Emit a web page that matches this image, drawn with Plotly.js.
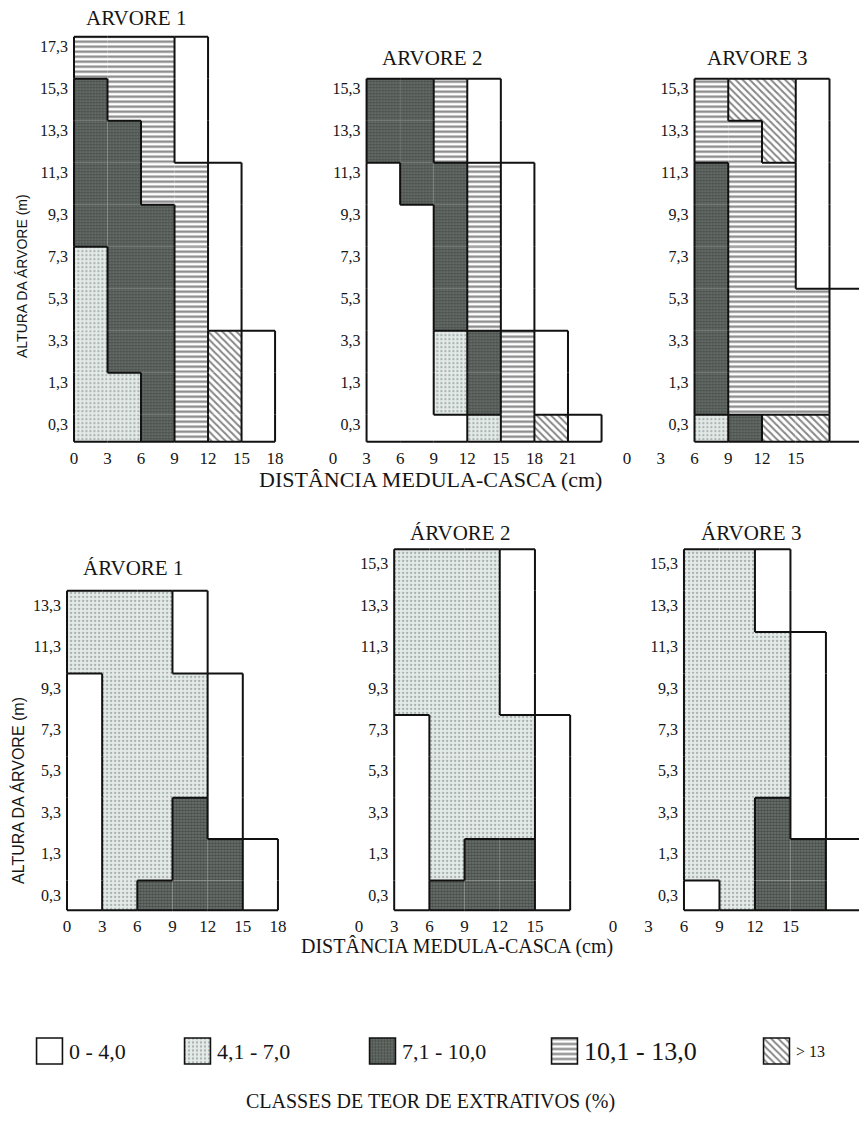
<!DOCTYPE html>
<html><head><meta charset="utf-8">
<script src="https://cdn.plot.ly/plotly-3.0.1.min.js"></script>
<style>html,body{margin:0;padding:0;background:#fff}#chart{width:859px;height:1124px}</style>
</head><body><div id="chart"></div>
<script>
// ---------------- DATA ----------------
// extractive-content classes: 0 = 0-4,0 ; 1 = 4,1-7,0 ; 2 = 7,1-10,0 ; 3 = 10,1-13,0 ; 4 = >13 ; null = no wood
const classLabels = ['0 - 4,0', '4,1 - 7,0', '7,1 - 10,0', '10,1 - 13,0', '> 13'];
const legendTitle = 'CLASSES DE TEOR DE EXTRATIVOS (%)';
const xTitle = 'DISTÂNCIA MEDULA-CASCA (cm)';
const yTitle = 'ALTURA DA ÁRVORE (m)';
const N = null;

// sampling heights (rows, bottom -> top)
const heights17 = ['0,3', '1,3', '3,3', '5,3', '7,3', '9,3', '11,3', '13,3', '15,3', '17,3'];
const heights15 = ['0,3', '1,3', '3,3', '5,3', '7,3', '9,3', '11,3', '13,3', '15,3'];
const heights13 = ['0,3', '1,3', '3,3', '5,3', '7,3', '9,3', '11,3', '13,3'];

// columns are 3 cm rings starting at *Start (cm), rows follow the height arrays
const topTree1Start = 0;
const topTree1Classes = [
  [1, 1, 2, 3, 4, 0],
  [1, 1, 2, 3, 4, 0],
  [1, 2, 2, 3, 4, 0],
  [1, 2, 2, 3, 0, N],
  [1, 2, 2, 3, 0, N],
  [2, 2, 2, 3, 0, N],
  [2, 2, 3, 3, 0, N],
  [2, 2, 3, 0, N, N],
  [2, 3, 3, 0, N, N],
  [3, 3, 3, 0, N, N]
];
const topTree1XTicks = [0, 3, 6, 9, 12, 15, 18];

const topTree2Start = 3;
const topTree2Classes = [
  [0, 0, 0, 1, 3, 4, 0],
  [0, 0, 1, 2, 3, 0, N],
  [0, 0, 1, 2, 3, 0, N],
  [0, 0, 2, 3, 0, N, N],
  [0, 0, 2, 3, 0, N, N],
  [0, 0, 2, 3, 0, N, N],
  [0, 2, 2, 3, 0, N, N],
  [2, 2, 3, 0, N, N, N],
  [2, 2, 3, 0, N, N, N]
];
const topTree2XTicks = [0, 3, 6, 9, 12, 15, 18, 21];

const topTree3Start = 6;
const topTree3Classes = [
  [1, 2, 4, 4, 0],
  [2, 3, 3, 3, 0],
  [2, 3, 3, 3, 0],
  [2, 3, 3, 3, 0],
  [2, 3, 3, 0, N],
  [2, 3, 3, 0, N],
  [2, 3, 3, 0, N],
  [3, 3, 4, 0, N],
  [3, 4, 4, 0, N]
];
const topTree3XTicks = [0, 3, 6, 9, 12, 15];

const botTree1Start = 0;
const botTree1Classes = [
  [0, 1, 2, 2, 2, 0],
  [0, 1, 1, 2, 2, 0],
  [0, 1, 1, 2, 0, N],
  [0, 1, 1, 1, 0, N],
  [0, 1, 1, 1, 0, N],
  [0, 1, 1, 1, 0, N],
  [1, 1, 1, 0, N, N],
  [1, 1, 1, 0, N, N]
];
const botTree1XTicks = [0, 3, 6, 9, 12, 15, 18];

const botTree2Start = 3;
const botTree2Classes = [
  [0, 2, 2, 2, 0],
  [0, 1, 2, 2, 0],
  [0, 1, 1, 1, 0],
  [0, 1, 1, 1, 0],
  [0, 1, 1, 1, 0],
  [1, 1, 1, 0, N],
  [1, 1, 1, 0, N],
  [1, 1, 1, 0, N],
  [1, 1, 1, 0, N]
];
const botTree2XTicks = [0, 3, 6, 9, 12, 15];

const botTree3Start = 6;
const botTree3Classes = [
  [0, 1, 2, 2, 0],
  [1, 1, 2, 2, 0],
  [1, 1, 2, 0, N],
  [1, 1, 1, 0, N],
  [1, 1, 1, 0, N],
  [1, 1, 1, 0, N],
  [1, 1, 1, 0, N],
  [1, 1, 0, N, N],
  [1, 1, 0, N, N]
];
const botTree3XTicks = [0, 3, 6, 9, 12, 15];

// ---------------- STYLE / LAYOUT ----------------
const W = 859, H = 1124;
const SERIF = 'Liberation Serif, Times New Roman, serif';
const SANS = 'Liberation Sans, Arial, sans-serif';
const INK = '#151515';
const COLW = 3; // ring width in cm

const classStyle = [
  {color: '#ffffff', shape: '',   fg: '#000000', size: 8, sol: 0.3},
  {color: '#e3eae7', shape: '.',  fg: '#6a7571', size: 4, sol: 0.26},
  {color: '#6f7671', shape: '.',  fg: '#1f2420', size: 3, sol: 0.55},
  {color: '#ffffff', shape: '-',  fg: '#0d0d0d', size: 5, sol: 0.45},
  {color: '#ffffff', shape: '\\', fg: '#0d0d0d', size: 5, sol: 0.4}
];

const rowGeom = {
  top:    {y0: 424, ppr: 42.0, off: 0.22, bottom: -0.42, yMax: 9.4, xStandoff: 1},
  bottom: {y0: 895, ppr: 41.4, off: 0.35, bottom: -0.37, yMax: 8.6, xStandoff: -2}
};

const panels = [
  {title: 'ARVORE 1', heights: heights17, classes: topTree1Classes, start: topTree1Start, xticks: topTree1XTicks,
   row: 'top', x0: 74, ppc: 11.17, xMax: 18.5, tx: 136, ty: 18},
  {title: 'ARVORE 2', heights: heights15, classes: topTree2Classes, start: topTree2Start, xticks: topTree2XTicks,
   row: 'top', x0: 333, ppc: 11.19, xMax: 24.5, tx: 432, ty: 58},
  {title: 'ARVORE 3', heights: heights15, classes: topTree3Classes, start: topTree3Start, xticks: topTree3XTicks,
   row: 'top', x0: 627, ppc: 11.25, xMax: 22, tx: 757, ty: 58},
  {title: 'ÁRVORE 1', heights: heights13, classes: botTree1Classes, start: botTree1Start, xticks: botTree1XTicks,
   row: 'bottom', x0: 67, ppc: 11.72, xMax: 18.5, tx: 133, ty: 568},
  {title: 'ÁRVORE 2', heights: heights15, classes: botTree2Classes, start: botTree2Start, xticks: botTree2XTicks,
   row: 'bottom', x0: 359, ppc: 11.73, xMax: 18.5, tx: 460, ty: 533},
  {title: 'ÁRVORE 3', heights: heights15, classes: botTree3Classes, start: botTree3Start, xticks: botTree3XTicks,
   row: 'bottom', x0: 613, ppc: 11.83, xMax: 22, tx: 751, ty: 533}
];

const traces = [];
const layout = {
  width: W, height: H, margin: {l: 0, r: 0, t: 0, b: 0},
  paper_bgcolor: '#ffffff', plot_bgcolor: 'rgba(0,0,0,0)',
  showlegend: false, hovermode: false, barmode: 'overlay',
  annotations: [], font: {family: SERIF, color: INK}
};

const px2fx = p => p / W;
const px2fy = p => 1 - p / H;

function rowSpan(g, k) {
  return [k === 0 ? g.bottom : k - 1 + g.off, k + g.off];
}

panels.forEach((p, i) => {
  const n = i + 1;
  const xa = n === 1 ? 'x' : 'x' + n;
  const ya = n === 1 ? 'y' : 'y' + n;
  const g = rowGeom[p.row];
  const xEnd = Math.min(p.xMax, (W - p.x0) / p.ppc);
  const xStart = -0.5;
  const yLo = -0.5, yHi = g.yMax;

  // bars, one trace per class
  classStyle.forEach((st, k) => {
    const xs = [], ys = [], bs = [];
    p.classes.forEach((row, r) => {
      const [yb, yt] = rowSpan(g, r);
      row.forEach((v, c) => {
        if (v === k) {
          xs.push(p.start + COLW * c + COLW / 2);
          bs.push(yb);
          ys.push(yt - yb);
        }
      });
    });
    if (!xs.length) return;
    traces.push({
      type: 'bar', x: xs, y: ys, base: bs, width: COLW, xaxis: xa, yaxis: ya,
      name: classLabels[k], hoverinfo: 'skip',
      marker: {color: st.color, line: {width: 0},
        pattern: {shape: st.shape, fgcolor: st.fg, size: st.size, solidity: st.sol, fillmode: 'overlay'}}
    });
  });

  // outlines between different classes
  const lx = [], ly = [];
  const cls = (r, c) => (r < 0 || r >= p.classes.length || c < 0 || c >= p.classes[r].length) ? N : p.classes[r][c];
  const seg = (x1, y1, x2, y2) => { lx.push(x1, x2, null); ly.push(y1, y2, null); };
  p.classes.forEach((row, r) => {
    const [yb, yt] = rowSpan(g, r);
    row.forEach((v, c) => {
      if (v === N) return;
      const xl = p.start + COLW * c, xr = xl + COLW;
      if (cls(r, c - 1) === N) seg(xl, yb, xl, yt);
      if (cls(r, c + 1) !== v) seg(xr, yb, xr, yt);
      if (cls(r - 1, c) === N) seg(xl, yb, xr, yb);
      if (cls(r + 1, c) !== v) seg(xl, yt, xr, yt);
    });
  });
  traces.push({type: 'scatter', mode: 'lines', x: lx, y: ly, xaxis: xa, yaxis: ya,
    connectgaps: false, hoverinfo: 'skip', line: {color: '#111111', width: 2}});

  const domX = [px2fx(p.x0 + xStart * p.ppc), px2fx(p.x0 + xEnd * p.ppc)];
  const domY = [px2fy(g.y0 - yLo * g.ppr), px2fy(g.y0 - yHi * g.ppr)];
  const boxLeftPx = p.x0 + p.start * p.ppc;

  layout['xaxis' + (n === 1 ? '' : n)] = {
    domain: domX, range: [xStart, xEnd], anchor: ya, showgrid: false, zeroline: false,
    showline: false, ticks: '', tickmode: 'array', tickvals: p.xticks, ticktext: p.xticks.map(String),
    ticklabelstandoff: g.xStandoff, tickfont: {family: SERIF, size: 17, color: INK}, fixedrange: true
  };
  layout['yaxis' + (n === 1 ? '' : n)] = {
    domain: domY, range: [yLo, yHi], anchor: 'free', position: px2fx(boxLeftPx),
    showgrid: false, zeroline: false, showline: false, ticks: '',
    tickmode: 'array', tickvals: p.heights.map((_, k) => k), ticktext: p.heights,
    ticklabelstandoff: 6, tickfont: {family: SERIF, size: 16, color: INK}, fixedrange: true
  };

  layout.annotations.push({text: p.title, xref: 'paper', yref: 'paper', x: px2fx(p.tx), y: px2fy(p.ty),
    xanchor: 'center', yanchor: 'middle', showarrow: false, font: {family: SERIF, size: 21, color: INK}});
});

// axis titles
layout.annotations.push(
  {text: yTitle, xref: 'paper', yref: 'paper', x: px2fx(22), y: px2fy(276), textangle: -90,
   xanchor: 'center', yanchor: 'middle', showarrow: false, font: {family: SANS, size: 14, color: INK}},
  {text: yTitle, xref: 'paper', yref: 'paper', x: px2fx(18), y: px2fy(791), textangle: -90,
   xanchor: 'center', yanchor: 'middle', showarrow: false, font: {family: SANS, size: 16, color: INK}},
  {text: xTitle, xref: 'paper', yref: 'paper', x: px2fx(430), y: px2fy(480),
   xanchor: 'center', yanchor: 'middle', showarrow: false, font: {family: SERIF, size: 22, color: INK}},
  {text: xTitle, xref: 'paper', yref: 'paper', x: px2fx(457), y: px2fy(946),
   xanchor: 'center', yanchor: 'middle', showarrow: false, font: {family: SERIF, size: 20, color: INK}},
  {text: legendTitle, xref: 'paper', yref: 'paper', x: px2fx(430), y: px2fy(1101),
   xanchor: 'center', yanchor: 'middle', showarrow: false, font: {family: SERIF, size: 20, color: INK}}
);

// legend: one small subplot per class
const legBoxLeft = [35, 183, 368, 550, 762];
const legFont = [22, 22, 22, 26, 16];
const legBox = 29, legCy = 1051;
classLabels.forEach((lab, k) => {
  const n = panels.length + 1 + k;
  const xa = 'x' + n, ya = 'y' + n;
  const st = classStyle[k];
  traces.push({
    type: 'bar', x: [0], y: [1], width: 1, xaxis: xa, yaxis: ya, hoverinfo: 'skip', name: lab,
    marker: {color: st.color, line: {width: 1.6, color: '#111111'},
      pattern: {shape: st.shape, fgcolor: st.fg, size: st.size, solidity: st.sol, fillmode: 'overlay'}}
  });
  layout['xaxis' + n] = {domain: [px2fx(legBoxLeft[k]), px2fx(legBoxLeft[k] + legBox)], range: [-0.56, 0.56],
    anchor: ya, visible: false, fixedrange: true};
  layout['yaxis' + n] = {domain: [px2fy(legCy + legBox / 2), px2fy(legCy - legBox / 2)], range: [-0.06, 1.06],
    anchor: xa, visible: false, fixedrange: true};
  layout.annotations.push({text: lab, xref: 'paper', yref: 'paper', x: px2fx(legBoxLeft[k] + legBox + 3),
    y: px2fy(legCy), xanchor: 'left', yanchor: 'middle', showarrow: false,
    font: {family: SERIF, size: legFont[k], color: INK}});
});

Plotly.newPlot('chart', traces, layout, {staticPlot: true, displayModeBar: false});
</script>
</body></html>
